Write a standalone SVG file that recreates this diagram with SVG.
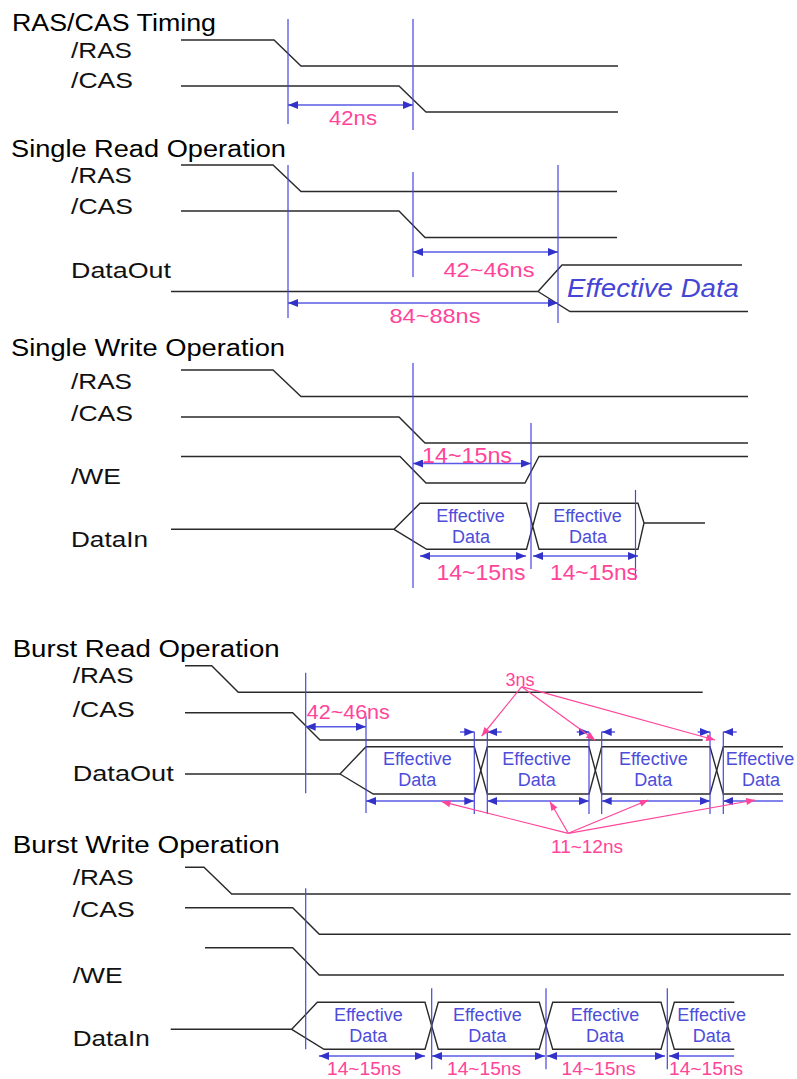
<svg xmlns="http://www.w3.org/2000/svg" width="797" height="1079" viewBox="0 0 797 1079">
<defs>
<style>
text { font-family: "Liberation Sans", Arial, sans-serif; }
.title { font-size: 23px; fill: #000; }
.lbl { font-size: 22px; fill: #111; }
.sig { fill: none; stroke: #2a2a2a; stroke-width: 1.4; }
.vl { stroke: #4646dc; stroke-width: 1.2; }
.dim { stroke: #5a5ae6; stroke-width: 1.5; fill: none; marker-start: url(#ab); marker-end: url(#ab); }
.dimS { stroke: #5a5ae6; stroke-width: 1.5; fill: none; marker-start: url(#ab); }
.dimE { stroke: #5a5ae6; stroke-width: 1.5; fill: none; marker-end: url(#ab); }
.pk { fill: #ff4499; text-anchor: middle; }
.ed { fill: #4d4ddb; font-size: 18px; text-anchor: middle; }
.pa { stroke: #ff4499; stroke-width: 1.2; fill: none; marker-end: url(#pa); }
</style>
<marker id="ab" viewBox="0 0 10 8" refX="10" refY="4" markerWidth="10" markerHeight="8" markerUnits="userSpaceOnUse" orient="auto-start-reverse">
<path d="M0,0 L10,4 L0,8 z" fill="#3232c8"/>
</marker>
<marker id="pa" viewBox="0 0 10 8" refX="10" refY="4" markerWidth="10" markerHeight="7" markerUnits="userSpaceOnUse" orient="auto">
<path d="M0,0 L10,4 L0,8 z" fill="#ff4499"/>
</marker>
</defs>
<rect width="797" height="1079" fill="#fff"/>

<!-- Section 1 -->
<g id="sec-rascas">
<text class="title" x="12" y="31" textLength="204" lengthAdjust="spacingAndGlyphs">RAS/CAS Timing</text>
<text class="lbl" x="71" y="58" textLength="61" lengthAdjust="spacingAndGlyphs">/RAS</text>
<text class="lbl" x="71" y="88" textLength="62" lengthAdjust="spacingAndGlyphs">/CAS</text>
<path class="sig" d="M181,40 H274 L301,66 H618"/>
<path class="sig" d="M181,86 H399 L426,112 H618"/>
<line class="vl" x1="288" y1="19" x2="288" y2="124"/>
<line class="vl" x1="413" y1="19" x2="413" y2="130"/>
<path class="dim" d="M288,105 H413"/>
<text class="pk" x="353" y="125" font-size="21" textLength="48" lengthAdjust="spacingAndGlyphs">42ns</text>
</g>

<!-- Section 2 -->
<g id="sec-single-read">
<text class="title" x="11" y="157" textLength="275" lengthAdjust="spacingAndGlyphs">Single Read Operation</text>
<text class="lbl" x="71" y="183" textLength="61" lengthAdjust="spacingAndGlyphs">/RAS</text>
<text class="lbl" x="71" y="214" textLength="62" lengthAdjust="spacingAndGlyphs">/CAS</text>
<text class="lbl" x="71" y="278" textLength="100" lengthAdjust="spacingAndGlyphs">DataOut</text>
<path class="sig" d="M181,165 H273 L301,191.5 H617"/>
<path class="sig" d="M181,211 H399 L425,237.5 H617"/>
<path class="sig" d="M171,291.5 H538 L562,265 H742 M538,291.5 L570,311.5 H748"/>
<line class="vl" x1="288" y1="165" x2="288" y2="318"/>
<line class="vl" x1="413" y1="172" x2="413" y2="277"/>
<line class="vl" x1="558" y1="165" x2="558" y2="323"/>
<path class="dim" d="M413,252 H558"/>
<text class="pk" x="489" y="277" font-size="21" textLength="91" lengthAdjust="spacingAndGlyphs">42~46ns</text>
<text x="567" y="297" font-size="25" font-style="italic" fill="#4545d6" textLength="172" lengthAdjust="spacingAndGlyphs">Effective Data</text>
<path class="dim" d="M288,303 H558"/>
<text class="pk" x="435" y="323" font-size="21" textLength="91" lengthAdjust="spacingAndGlyphs">84~88ns</text>
</g>

<!-- Section 3 -->
<g id="sec-single-write">
<text class="title" x="11" y="356" textLength="274" lengthAdjust="spacingAndGlyphs">Single Write Operation</text>
<text class="lbl" x="71" y="389" textLength="61" lengthAdjust="spacingAndGlyphs">/RAS</text>
<text class="lbl" x="71" y="421" textLength="62" lengthAdjust="spacingAndGlyphs">/CAS</text>
<text class="lbl" x="71" y="484" textLength="50" lengthAdjust="spacingAndGlyphs">/WE</text>
<text class="lbl" x="71" y="547" textLength="77" lengthAdjust="spacingAndGlyphs">DataIn</text>
<path class="sig" d="M181,370 H273 L301,396.5 H748"/>
<path class="sig" d="M181,417 H399 L425,443 H748"/>
<path class="sig" d="M181,456.5 H400 L426,483 H525 L539,456.5 H748"/>
<path class="sig" d="M171,529.3 H394 L420,503.3 H526.5 L539,549.3 H638 L644,523 M394,529.3 L426.7,549.3 H526.5 L539,503.3 H638 L644,523 H705"/>
<line class="vl" x1="413" y1="363" x2="413" y2="588"/>
<line class="vl" x1="531" y1="423" x2="531" y2="569"/>
<line class="vl" x1="635.5" y1="490" x2="635.5" y2="580"/>
<path class="dim" d="M413,463.5 H531"/>
<text class="pk" x="467" y="463" font-size="22" textLength="90" lengthAdjust="spacingAndGlyphs">14~15ns</text>
<text class="ed" x="470.5" y="521.7">Effective</text>
<text class="ed" x="471" y="542.7">Data</text>
<text class="ed" x="587.5" y="521.7">Effective</text>
<text class="ed" x="588" y="542.7">Data</text>
<path class="dim" d="M420,556 H526"/>
<path class="dim" d="M533,556 H638"/>
<text class="pk" x="481" y="580" font-size="22" textLength="89" lengthAdjust="spacingAndGlyphs">14~15ns</text>
<text class="pk" x="594" y="580" font-size="22" textLength="88" lengthAdjust="spacingAndGlyphs">14~15ns</text>
</g>

<!-- Section 4 -->
<g id="sec-burst-read">
<text class="title" x="12.7" y="657" textLength="267" lengthAdjust="spacingAndGlyphs">Burst Read Operation</text>
<text class="lbl" x="72.7" y="683.3" textLength="61" lengthAdjust="spacingAndGlyphs">/RAS</text>
<text class="lbl" x="72.7" y="716.7" textLength="62" lengthAdjust="spacingAndGlyphs">/CAS</text>
<text class="lbl" x="72.7" y="780.7" textLength="101" lengthAdjust="spacingAndGlyphs">DataOut</text>
<path class="sig" d="M185,665.7 H211.7 L238.3,692.3 H702.7"/>
<path class="sig" d="M185,712.7 H292.7 L320,740 H702.7"/>
<path class="sig" d="M185,774 H340 L366,746.7 H474.3 L487.3,794 H589 L601.7,746.7 H710 L723.3,794 H783"/>
<path class="sig" d="M340,774 L373.3,794 H474.3 L487.3,746.7 H589 L601.7,794 H710 L723.3,746.7 H783"/>
<line class="vl" x1="305.7" y1="672.7" x2="305.7" y2="793.3"/>
<line class="vl" x1="366" y1="716" x2="366" y2="813"/>
<line class="vl" x1="474.3" y1="731.7" x2="474.3" y2="814"/>
<line class="vl" x1="487.3" y1="731.7" x2="487.3" y2="814"/>
<line class="vl" x1="589" y1="731.7" x2="589" y2="814"/>
<line class="vl" x1="601.7" y1="731.7" x2="601.7" y2="814"/>
<line class="vl" x1="710" y1="731.7" x2="710" y2="814"/>
<line class="vl" x1="723.3" y1="731.7" x2="723.3" y2="814"/>
<text class="pk" x="348.3" y="719.3" font-size="20" textLength="83" lengthAdjust="spacingAndGlyphs">42~46ns</text>
<path class="dim" d="M305.7,726.7 H366"/>
<path class="dimE" d="M460,732 H474.3"/>
<path class="dimE" d="M501.7,732 H487.3"/>
<path class="dimE" d="M576.7,732 H589"/>
<path class="dimE" d="M615,732 H601.7"/>
<path class="dimE" d="M697.7,732 H710"/>
<path class="dimE" d="M736.7,732 H723.3"/>
<text class="ed" x="417.3" y="765">Effective</text>
<text class="ed" x="417.3" y="786">Data</text>
<text class="ed" x="536.7" y="765">Effective</text>
<text class="ed" x="536.7" y="786">Data</text>
<text class="ed" x="653.3" y="765">Effective</text>
<text class="ed" x="653.3" y="786">Data</text>
<text class="ed" x="760" y="765">Effective</text>
<text class="ed" x="761" y="786">Data</text>
<path class="dim" d="M366,801 H474.3"/>
<path class="dim" d="M487.3,801 H589"/>
<path class="dim" d="M601.7,801 H710"/>
<path class="dimS" d="M723.3,801 H783"/>
<text class="pk" x="520" y="686" font-size="18">3ns</text>
<path class="pa" d="M521.7,686.7 L481.7,736"/>
<path class="pa" d="M521.7,686.7 L595,740"/>
<path class="pa" d="M521.7,686.7 L715,740"/>
<text class="pk" x="587" y="853" font-size="18" textLength="72" lengthAdjust="spacingAndGlyphs">11~12ns</text>
<path class="pa" d="M568.3,833.3 L441.7,801.7"/>
<path class="pa" d="M568.3,833.3 L550,801.7"/>
<path class="pa" d="M568.3,833.3 L648.3,800"/>
<path class="pa" d="M568.3,833.3 L755,800"/>
</g>

<!-- Section 5 -->
<g id="sec-burst-write">
<text class="title" x="12.7" y="852.7" textLength="267" lengthAdjust="spacingAndGlyphs">Burst Write Operation</text>
<text class="lbl" x="72.7" y="885" textLength="61" lengthAdjust="spacingAndGlyphs">/RAS</text>
<text class="lbl" x="72.7" y="917.3" textLength="62" lengthAdjust="spacingAndGlyphs">/CAS</text>
<text class="lbl" x="72.7" y="983.3" textLength="50" lengthAdjust="spacingAndGlyphs">/WE</text>
<text class="lbl" x="72.7" y="1046" textLength="77" lengthAdjust="spacingAndGlyphs">DataIn</text>
<path class="sig" d="M185,867.3 H204 L231.7,894 H790.7"/>
<path class="sig" d="M185,907.7 H292.7 L319.3,934.3 H790.7"/>
<path class="sig" d="M205,947.7 H292.7 L319.3,975 H784"/>
<path class="sig" d="M170.7,1029.3 H291.7 L317.3,1002.3 H425 L438.3,1049.3 H539.3 L552.7,1002.3 H661 L674.3,1049.3 H734.3"/>
<path class="sig" d="M291.7,1029.3 L324,1049.3 H425 L438.3,1002.3 H539.3 L552.7,1049.3 H661 L674.3,1002.3 H734.3"/>
<line class="vl" x1="305.7" y1="888.3" x2="305.7" y2="1049.3"/>
<line class="vl" x1="431.7" y1="988.3" x2="431.7" y2="1069.3"/>
<line class="vl" x1="546" y1="988.3" x2="546" y2="1069.3"/>
<line class="vl" x1="667.3" y1="988.3" x2="667.3" y2="1069.3"/>
<text class="ed" x="368.3" y="1020.5">Effective</text>
<text class="ed" x="368.3" y="1041.7">Data</text>
<text class="ed" x="487.3" y="1020.5">Effective</text>
<text class="ed" x="487.3" y="1041.7">Data</text>
<text class="ed" x="605" y="1020.5">Effective</text>
<text class="ed" x="605" y="1041.7">Data</text>
<text class="ed" x="711.7" y="1020.5">Effective</text>
<text class="ed" x="711.7" y="1041.7">Data</text>
<path class="dim" d="M319,1056 H425"/>
<path class="dim" d="M432,1056 H545"/>
<path class="dim" d="M547,1056 H665"/>
<path class="dimS" d="M669,1056 H734"/>
<text class="pk" x="364" y="1075" font-size="18.5" textLength="74" lengthAdjust="spacingAndGlyphs">14~15ns</text>
<text class="pk" x="484" y="1075" font-size="18.5" textLength="74" lengthAdjust="spacingAndGlyphs">14~15ns</text>
<text class="pk" x="598.5" y="1075" font-size="18.5" textLength="74" lengthAdjust="spacingAndGlyphs">14~15ns</text>
<text class="pk" x="706" y="1075" font-size="18.5" textLength="74" lengthAdjust="spacingAndGlyphs">14~15ns</text>
</g>
</svg>
